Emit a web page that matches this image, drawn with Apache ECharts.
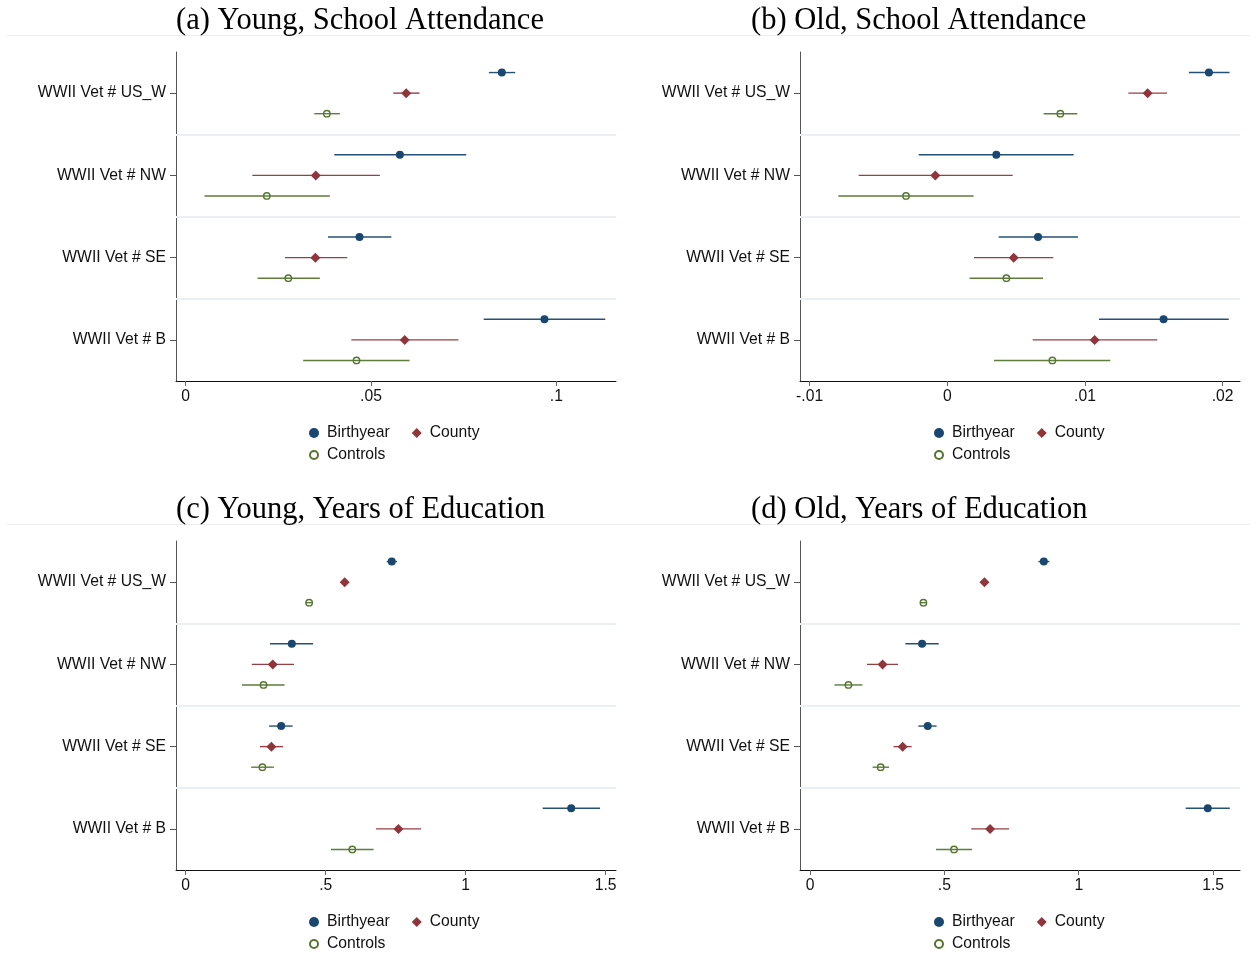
<!DOCTYPE html>
<html>
<head>
<meta charset="utf-8">
<script src="https://cdn.jsdelivr.net/npm/echarts@6/dist/echarts.min.js"></script>
<style>
  html, body { margin: 0; padding: 0; background: #fff; }
  #chart { width: 1250px; height: 953px; }
</style>
</head>
<body>
<div id="chart"></div>
<script>
// Coefficient plots: WWII veteran interaction terms, three fixed-effect specifications.
const CATEGORIES = ['WWII Vet # US_W', 'WWII Vet # NW', 'WWII Vet # SE', 'WWII Vet # B'];
const SERIES_NAMES = ['Birthyear', 'County', 'Controls'];

// Each row: [estimate, 95% CI low, 95% CI high], one row per category.
const youngAttendBirthyear = [[0.0853, 0.0818, 0.0889], [0.0578, 0.0401, 0.0757], [0.0469, 0.0384, 0.0555], [0.0968, 0.0804, 0.1132]];
const youngAttendCounty    = [[0.0595, 0.0560, 0.0631], [0.0351, 0.0180, 0.0524], [0.0350, 0.0268, 0.0436], [0.0591, 0.0447, 0.0736]];
const youngAttendControls  = [[0.0381, 0.0347, 0.0416], [0.0219, 0.0051, 0.0389], [0.0277, 0.0194, 0.0362], [0.0461, 0.0317, 0.0604]];

const oldAttendBirthyear = [[0.0190, 0.01755, 0.0205], [0.00356, -0.00208, 0.00918], [0.00659, 0.00373, 0.00949], [0.01571, 0.01102, 0.02044]];
const oldAttendCounty    = [[0.01455, 0.01315, 0.01596], [-0.00087, -0.00644, 0.00475], [0.00482, 0.00194, 0.0077], [0.0107, 0.0062, 0.01525]];
const oldAttendControls  = [[0.00821, 0.0070, 0.00944], [-0.0030, -0.00792, 0.00191], [0.00429, 0.00162, 0.00695], [0.00763, 0.00339, 0.01184]];

const youngEduBirthyear = [[0.736, 0.718, 0.755], [0.379, 0.301, 0.455], [0.341, 0.298, 0.382], [1.377, 1.275, 1.480]];
const youngEduCounty    = [[0.568, 0.560, 0.577], [0.311, 0.236, 0.387], [0.306, 0.265, 0.348], [0.760, 0.680, 0.841]];
const youngEduControls  = [[0.441, 0.427, 0.455], [0.278, 0.201, 0.353], [0.274, 0.234, 0.315], [0.595, 0.519, 0.671]];

const oldEduBirthyear = [[0.870, 0.850, 0.891], [0.417, 0.355, 0.479], [0.438, 0.403, 0.471], [1.480, 1.398, 1.562]];
const oldEduCounty    = [[0.649, 0.639, 0.659], [0.270, 0.212, 0.328], [0.345, 0.311, 0.378], [0.670, 0.600, 0.741]];
const oldEduControls  = [[0.422, 0.409, 0.434], [0.143, 0.091, 0.195], [0.263, 0.233, 0.294], [0.536, 0.469, 0.603]];

// x-axis tick values
const attendYoungTicks = [0, 0.05, 0.1];
const attendOldTicks = [-0.01, 0, 0.01, 0.02];
const eduTicks = [0, 0.5, 1, 1.5];

// Styling
const COLORS = ['#1a476f', '#90353b', '#55752f'];
const SYMBOLS = ['circle', 'diamond', 'circle'];
const LEGEND_ICONS = ['circle', 'path://M5,0L10,5L5,10L0,5Z', 'path://M5,1.5A3.5,3.5,0,1,1,4.99,1.5Z'];
const SYMBOL_SIZES = [8, 10, 6.4];
const ROW_OFFSETS = [-0.25, 0, 0.25];   // vertical offsets of the three estimates inside a category band
const SANS = '"Liberation Sans", Arial, Helvetica, sans-serif';
const SERIF = '"Liberation Serif", "Times New Roman", serif';
const FONT_SIZE = 15.7;

const panels = [
  { title: '(a) Young, School Attendance', groups: [youngAttendBirthyear, youngAttendCounty, youngAttendControls],
    ticks: attendYoungTicks, min: -0.0026, max: 0.1161, left: 176, top: 52, titleLeft: 176, titleTop: 5, legendLeft: 309, legendTop: 425 },
  { title: '(b) Old, School Attendance', groups: [oldAttendBirthyear, oldAttendCounty, oldAttendControls],
    ticks: attendOldTicks, min: -0.0107, max: 0.02126, left: 800, top: 52, titleLeft: 751, titleTop: 5, legendLeft: 934, legendTop: 425 },
  { title: '(c) Young, Years of Education', groups: [youngEduBirthyear, youngEduCounty, youngEduControls],
    ticks: eduTicks, min: -0.0346, max: 1.537, left: 176, top: 541, titleLeft: 176, titleTop: 494, legendLeft: 309, legendTop: 914 },
  { title: '(d) Old, Years of Education', groups: [oldEduBirthyear, oldEduCounty, oldEduControls],
    ticks: eduTicks, min: -0.0372, max: 1.600, left: 800, top: 541, titleLeft: 751, titleTop: 494, legendLeft: 934, legendTop: 914 }
];

const PLOT_W = 440, PLOT_H = 329;
const SEPARATORS = CATEGORIES.slice(1).map((_, i) => i + 1.5);

function tickText(v) {
  return String(Number(v.toFixed(6))).replace(/^(-?)0\./, '$1.');
}

function errorBar(color) {
  return function (params, api) {
    const y = api.value(2);
    const a = api.coord([api.value(0), y]);
    const b = api.coord([api.value(1), y]);
    return {
      type: 'line',
      shape: { x1: a[0], y1: a[1], x2: b[0], y2: b[1] },
      style: { stroke: color, lineWidth: 1.4, opacity: 0.95 }
    };
  };
}

const grid = [], xAxis = [], yAxis = [], series = [], title = [], legend = [];

panels.forEach((p, pi) => {
  grid.push({ left: p.left, top: p.top, width: PLOT_W, height: PLOT_H, containLabel: false });

  title.push({
    text: p.title, left: p.titleLeft, top: p.titleTop, padding: 0,
    textStyle: { fontFamily: SERIF, fontSize: 30.5, fontWeight: 'normal', color: '#000' }
  });

  xAxis.push({
    gridIndex: pi, type: 'value', min: p.min, max: p.max,
    axisLine: { show: true, onZero: false, lineStyle: { color: '#111', width: 1 } },
    axisTick: { show: true, customValues: p.ticks, length: 5, lineStyle: { color: '#666' } },
    axisLabel: { customValues: p.ticks, formatter: tickText, margin: 8, fontSize: FONT_SIZE, fontFamily: SANS, color: '#111' },
    splitLine: { show: false }
  });

  // value axis used to place the estimates
  yAxis.push({ gridIndex: pi, type: 'value', position: 'left', min: 0.5, max: 4.5, inverse: true, show: false });
  // category axis carrying the row labels
  yAxis.push({
    gridIndex: pi, type: 'category', position: 'left', data: CATEGORIES, inverse: true,
    axisLine: { show: true, onZero: false, lineStyle: { color: '#555', width: 1 } },
    axisTick: { show: true, alignWithLabel: true, length: 6, lineStyle: { color: '#555' } },
    axisLabel: { margin: 10, fontSize: FONT_SIZE, fontFamily: SANS, color: '#111' },
    splitLine: { show: false }
  });

  p.groups.forEach((rows, si) => {
    const color = COLORS[si];
    const hollow = si === 2;
    series.push({
      type: 'scatter', name: SERIES_NAMES[si], xAxisIndex: pi, yAxisIndex: 2 * pi,
      symbol: SYMBOLS[si], symbolSize: SYMBOL_SIZES[si], symbolKeepAspect: true, z: 4,
      itemStyle: hollow
        ? { color: 'rgba(255,255,255,0)', borderColor: color, borderWidth: 1.4, opacity: 1 }
        : { color: color, opacity: 1 },
      data: rows.map((r, i) => [r[0], i + 1 + ROW_OFFSETS[si]]),
      silent: true
    });
    series.push({
      type: 'custom', name: SERIES_NAMES[si], xAxisIndex: pi, yAxisIndex: 2 * pi, z: 3,
      renderItem: errorBar(color),
      encode: { x: [0, 1], y: 2 },
      data: rows.map((r, i) => [r[1], r[2], i + 1 + ROW_OFFSETS[si]]),
      silent: true,
      markLine: si === 0 ? {
        silent: true, symbol: ['none', 'none'], label: { show: false }, z: 1,
        lineStyle: { color: '#eaf0f2', width: 2, type: 'solid', opacity: 1 },
        emphasis: { disabled: true },
        data: SEPARATORS.map(v => ({ yAxis: v }))
      } : undefined
    });
  });

  const legendCommon = {
    orient: 'horizontal', padding: 0, itemGap: 22, itemWidth: 16, itemHeight: 10, selectedMode: false,
    symbolKeepAspect: true,
    textStyle: { fontSize: FONT_SIZE, fontFamily: SANS, color: '#111' }
  };
  legend.push(Object.assign({}, legendCommon, {
    data: [
      { name: SERIES_NAMES[0], icon: LEGEND_ICONS[0] },
      { name: SERIES_NAMES[1], icon: LEGEND_ICONS[1] }
    ],
    left: p.legendLeft, top: p.legendTop
  }));
  legend.push(Object.assign({}, legendCommon, {
    itemHeight: 8,
    data: [{ name: SERIES_NAMES[2], icon: 'circle' }],
    left: p.legendLeft, top: p.legendTop + 22
  }));
});

const chart = echarts.init(document.getElementById('chart'), null, { renderer: 'canvas' });
chart.setOption({
  backgroundColor: '#fff',
  animation: false,
  title, grid, xAxis, yAxis, series, legend,
  graphic: [
    { type: 'line', silent: true, shape: { x1: 7, y1: 35.5, x2: 1250, y2: 35.5 }, style: { stroke: '#ededed', lineWidth: 1 } },
    { type: 'line', silent: true, shape: { x1: 7, y1: 524.5, x2: 1250, y2: 524.5 }, style: { stroke: '#ededed', lineWidth: 1 } }
  ]
});
</script>
</body>
</html>
